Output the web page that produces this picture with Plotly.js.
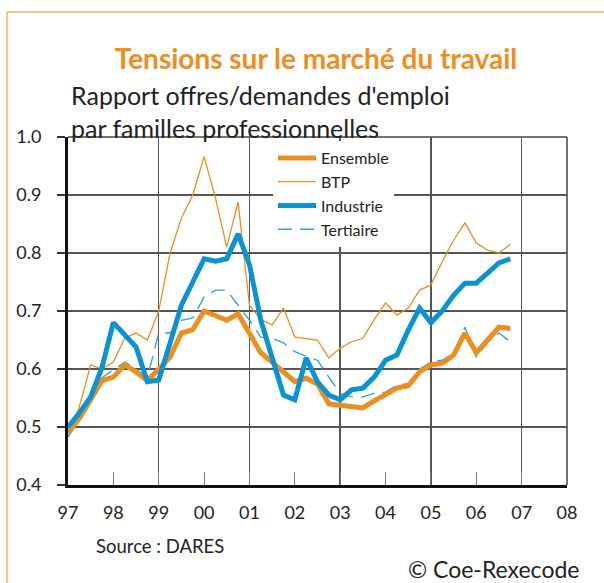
<!DOCTYPE html>
<html>
<head>
<meta charset="utf-8">
<script src="https://cdn.plot.ly/plotly-3.0.1.min.js"></script>
<style>
  html, body { margin: 0; padding: 0; background: #ffffff; }
  #chart { width: 604px; height: 583px; }
</style>
</head>
<body>
<div id="chart"></div>
<script>
// Quarterly positions (year + quarter fraction)
const quarters = [
  1997.00, 1997.25, 1997.50, 1997.75,
  1998.00, 1998.25, 1998.50, 1998.75,
  1999.00, 1999.25, 1999.50, 1999.75,
  2000.00, 2000.25, 2000.50, 2000.75,
  2001.00, 2001.25, 2001.50, 2001.75,
  2002.00, 2002.25, 2002.50, 2002.75,
  2003.00, 2003.25, 2003.50, 2003.75,
  2004.00, 2004.25, 2004.50, 2004.75,
  2005.00, 2005.25, 2005.50, 2005.75,
  2006.00, 2006.25, 2006.50, 2006.75
];

const ensemble = [
  0.490, 0.515, 0.547, 0.580,
  0.586, 0.607, 0.595, 0.580,
  0.600, 0.620, 0.662, 0.668,
  0.700, 0.693, 0.684, 0.695,
  0.662, 0.628, 0.612, 0.595,
  0.578, 0.584, 0.574, 0.540,
  0.538, 0.535, 0.533, 0.545,
  0.555, 0.567, 0.571, 0.595,
  0.607, 0.610, 0.624, 0.662,
  0.628, 0.650, 0.672, 0.670
];

const btp = [
  0.483, 0.535, 0.607, 0.600,
  0.612, 0.653, 0.662, 0.650,
  0.700, 0.800, 0.860, 0.900,
  0.966, 0.895, 0.810, 0.888,
  0.710, 0.685, 0.676, 0.705,
  0.655, 0.653, 0.650, 0.619,
  0.636, 0.647, 0.653, 0.685,
  0.714, 0.693, 0.705, 0.736,
  0.745, 0.785, 0.822, 0.852,
  0.817, 0.805, 0.800, 0.815
];

const industrie = [
  0.500, 0.524, 0.552, 0.603,
  0.680, 0.658, 0.638, 0.578,
  0.581, 0.645, 0.710, 0.750,
  0.790, 0.786, 0.790, 0.833,
  0.780, 0.684, 0.620, 0.555,
  0.547, 0.619, 0.578, 0.555,
  0.547, 0.564, 0.567, 0.586,
  0.615, 0.624, 0.667, 0.705,
  0.680, 0.700, 0.727, 0.748,
  0.748, 0.767, 0.783, 0.790
];

const tertiaire = [
  0.483, 0.512, 0.541, 0.585,
  0.598, 0.612, 0.600, 0.585,
  0.662, 0.662, 0.684, 0.688,
  0.724, 0.736, 0.736, 0.710,
  0.684, 0.655, 0.653, 0.645,
  0.630, 0.622, 0.615, 0.586,
  0.558, 0.552, 0.552, 0.558,
  0.560, 0.572, 0.575, 0.600,
  0.612, 0.615, 0.627, 0.672,
  0.620, 0.646, 0.662, 0.647
];

const yearTickVals = [1997, 1998, 1999, 2000, 2001, 2002, 2003, 2004, 2005, 2006, 2007, 2008];
const yearTickText = ["97", "98", "99", "00", "01", "02", "03", "04", "05", "06", "07", "08"];

const ORANGE = "#EE8E1E";
const BLUE = "#0A93D4";
const LIGHTBLUE = "#2FA3DE";
const FONT = "Lato, 'Noto Sans', sans-serif";

const traces = [
  {
    x: quarters, y: btp, name: "BTP", type: "scatter", mode: "lines",
    line: { color: ORANGE, width: 1.3 }, legendrank: 2
  },
  {
    x: quarters, y: tertiaire, name: "Tertiaire", type: "scatter", mode: "lines",
    line: { color: LIGHTBLUE, width: 1.4, dash: "14px,8px" }, legendrank: 4
  },
  {
    x: quarters, y: ensemble, name: "Ensemble", type: "scatter", mode: "lines",
    line: { color: ORANGE, width: 5 }, legendrank: 1
  },
  {
    x: quarters, y: industrie, name: "Industrie", type: "scatter", mode: "lines",
    line: { color: BLUE, width: 5 }, legendrank: 3
  }
];

const L = 68, R = 567, T = 137, B = 485;
const pw = R - L, ph = B - T;
const px = v => (v - L) / pw;
const py = v => (B - v) / ph;

const layout = {
  width: 604, height: 583,
  margin: { l: L, r: 604 - R, t: T, b: 583 - B, pad: 0 },
  paper_bgcolor: "#ffffff",
  plot_bgcolor: "#ffffff",
  font: { family: FONT, color: "#222222" },
  showlegend: true,
  title: {
    text: "<b>Tensions sur le marché du travail</b>",
    font: { family: FONT, size: 28, color: ORANGE },
    xref: "container", yref: "container",
    x: 316 / 604, xanchor: "center",
    y: 1 - 59 / 583, yanchor: "middle"
  },
  legend: {
    x: px(273), xanchor: "left",
    y: py(141), yanchor: "top",
    bgcolor: "#ffffff",
    borderwidth: 0,
    font: { family: FONT, size: 16, color: "#222222" },
    tracegroupgap: 0,
    itemwidth: 38
  },
  xaxis: {
    range: [1997, 2008],
    tickmode: "array",
    tickvals: yearTickVals,
    ticktext: yearTickText,
    ticks: "inside",
    ticklen: 13,
    tickwidth: 1,
    tickcolor: "#777777",
    ticklabelstandoff: 9,
    tickfont: { family: FONT, size: 18, color: "#222222" },
    showline: true,
    linecolor: "#111111",
    linewidth: 3,
    showgrid: false,
    zeroline: false,
    minor: {
      tick0: 1999, dtick: 2,
      showgrid: true, gridcolor: "#555555", gridwidth: 1.5,
      ticks: ""
    },
    fixedrange: true
  },
  yaxis: {
    range: [0.4, 1.0],
    dtick: 0.1,
    tick0: 0.4,
    tickformat: ".1f",
    ticks: "outside",
    ticklen: 8,
    tickwidth: 1.5,
    tickcolor: "#333333",
    ticklabelstandoff: 12,
    tickfont: { family: FONT, size: 18, color: "#222222" },
    showline: true,
    linecolor: "#111111",
    linewidth: 3,
    showgrid: true,
    gridcolor: "#555555",
    gridwidth: 1.5,
    zeroline: false,
    fixedrange: true
  },
  shapes: [
    { type: "line", xref: "paper", yref: "paper", x0: 0, x1: 1, y0: 1, y1: 1,
      line: { color: "#444444", width: 1.5 }, layer: "below" },
    { type: "line", xref: "paper", yref: "paper", x0: 1, x1: 1, y0: 0, y1: 1,
      line: { color: "#444444", width: 1.5 }, layer: "below" },
    { type: "line", xref: "paper", yref: "paper", x0: px(7), x1: px(7), y0: py(12), y1: py(600),
      line: { color: "#F9C38C", width: 2 } },
    { type: "line", xref: "paper", yref: "paper", x0: px(7), x1: px(610), y0: py(12), y1: py(12),
      line: { color: "#F9C38C", width: 2 } }
  ],
  annotations: [
    { text: "Rapport offres/demandes d'emploi<br>par familles professionnelles",
      xref: "paper", yref: "paper", align: "left",
      x: px(69), xanchor: "left", y: py(111), yanchor: "middle", showarrow: false,
      font: { family: FONT, size: 25, color: "#222222" } },
    { text: "Source : DARES", xref: "paper", yref: "paper",
      x: px(94), xanchor: "left", y: py(546), yanchor: "middle", showarrow: false,
      font: { family: FONT, size: 18.5, color: "#222222" } },
    { text: "© Coe-Rexecode", xref: "paper", yref: "paper",
      x: px(581), xanchor: "right", y: py(569), yanchor: "middle", showarrow: false,
      font: { family: FONT, size: 23, color: "#222222" } }
  ]
};

Plotly.newPlot("chart", traces, layout, { displayModeBar: false, staticPlot: true });
</script>
</body>
</html>
